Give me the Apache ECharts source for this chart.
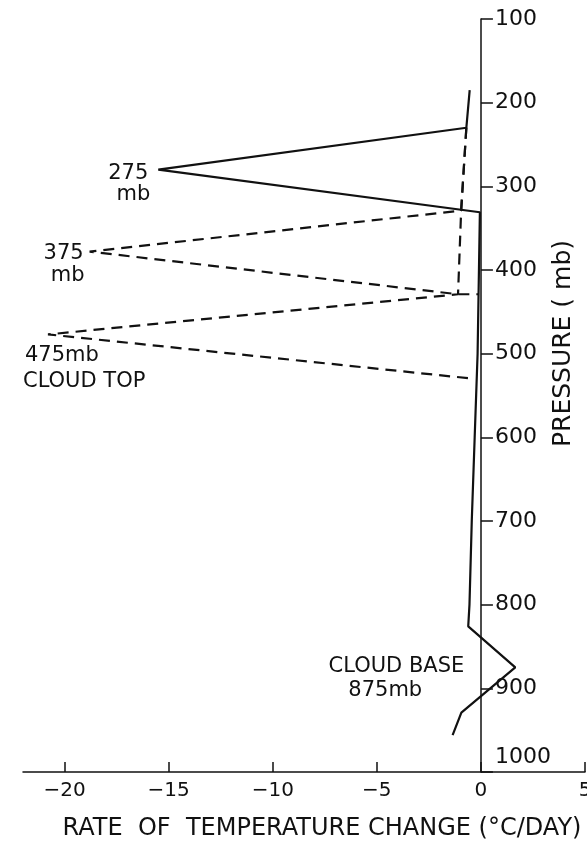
<!DOCTYPE html>
<html>
<head>
<meta charset="utf-8">
<script src="https://cdn.jsdelivr.net/npm/echarts@6/dist/echarts.min.js"></script>
<style>
  html, body { margin: 0; padding: 0; background: #fff; }
  #chart { width: 587px; height: 851px; }
</style>
</head>
<body>
<div id="chart"></div>
<script>
// ---- data ----
const xTicks = [-20, -15, -10, -5, 0, 5];
// Cloud top 275 mb (solid)
const solidP = [185, 230, 280, 331, 500, 600, 700, 800, 826, 875, 929, 956];
const solidR = [-0.54, -0.7, -15.5, -0.05, -0.16, -0.3, -0.44, -0.55, -0.61, 1.65, -0.94, -1.36];
// Cloud top 375 mb (dashed)
const dash375P = [230, 329, 378, 429, 429];
const dash375R = [-0.7, -0.95, -18.8, -1.1, -0.14];
// Cloud top 475 mb (dashed)
const dash475P = [230, 329, 429, 477, 530];
const dash475R = [-0.7, -0.95, -1.1, -20.8, -0.34];

const xName = 'RATE  OF  TEMPERATURE CHANGE (°C/DAY)';
const yName = 'PRESSURE ( mb)';

const FONT = 'DejaVu Sans';
const INK = '#111';

const W = 587, H = 851;
const GRID = { left: 23, right: 2, top: 19, bottom: 79 };
const X_MIN = -22, X_MAX = 5;
// shift the right-hand pressure axis onto x = 0
const yAxisOffset = -((W - GRID.left - GRID.right) * (X_MAX - 0) / (X_MAX - X_MIN));

function pairs(r, p) { return r.map((v, i) => [v, p[i]]); }

const chart = echarts.init(document.getElementById('chart'), null, { renderer: 'canvas' });

const option = {
  animation: false,
  backgroundColor: '#fff',
  grid: Object.assign({ containLabel: false, outerBoundsMode: 'none' }, GRID),
  xAxis: {
    type: 'value',
    min: X_MIN, max: X_MAX,
    position: 'bottom',
    splitLine: { show: false },
    axisLine: { show: true, onZero: false, lineStyle: { color: INK, width: 1.5 } },
    axisTick: { show: true, inside: true, length: 10, customValues: xTicks, lineStyle: { color: INK, width: 1.5 } },
    axisLabel: {
      customValues: xTicks, margin: 9, color: INK, fontFamily: FONT, fontSize: 20,
      formatter: v => (v < 0 ? '\u2212' + Math.abs(v) : String(v))
    },
    name: xName, nameLocation: 'middle', nameGap: 45, nameMoveOverlap: false,
    nameTextStyle: { color: INK, fontFamily: FONT, fontSize: 24, padding: [0, 0, 0, 36] }
  },
  yAxis: {
    type: 'value',
    min: 100, max: 1000, interval: 100,
    inverse: true,
    position: 'right',
    offset: yAxisOffset,
    splitLine: { show: false },
    axisLine: { show: true, onZero: false, lineStyle: { color: INK, width: 1.5 } },
    axisTick: { show: true, inside: false, length: 12, lineStyle: { color: INK, width: 1.5 } },
    axisLabel: {
      margin: 14, color: INK, fontFamily: FONT, fontSize: 22,
      formatter: v => (v === 1000 ? '{hi|1000}' : String(v)),
      rich: { hi: { fontFamily: FONT, fontSize: 22, color: INK, padding: [0, 0, 30, 0] } }
    },
    name: yName, nameLocation: 'middle', nameRotate: 90, nameGap: 70, nameMoveOverlap: false,
    nameTextStyle: { color: INK, fontFamily: FONT, fontSize: 25, padding: [0, 0, 0, 104] }
  },
  series: [
    {
      name: '275 mb', type: 'line', data: pairs(solidR, solidP),
      symbol: 'none', smooth: false,
      lineStyle: { color: INK, width: 2.2, type: 'solid' }
    },
    {
      name: '375 mb', type: 'line', data: pairs(dash375R, dash375P),
      symbol: 'none', smooth: false,
      lineStyle: { color: INK, width: 2.2, type: [11, 7] }
    },
    {
      name: '475 mb', type: 'line', data: pairs(dash475R, dash475P),
      symbol: 'none', smooth: false,
      lineStyle: { color: INK, width: 2.2, type: [11, 7] }
    }
  ]
};
chart.setOption(option);

// annotations anchored to data points
const annotations = [
  { text: '275', at: [solidR[2], solidP[2]], dx: -10, dy: 4, align: 'right' },
  { text: 'mb', at: [solidR[2], solidP[2]], dx: -8, dy: 25, align: 'right' },
  { text: '375', at: [dash375R[2], dash375P[2]], dx: -6, dy: 2, align: 'right' },
  { text: 'mb', at: [dash375R[2], dash375P[2]], dx: -5, dy: 24, align: 'right' },
  { text: '475mb', at: [dash475R[3], dash475P[3]], dx: -23, dy: 21, align: 'left' },
  { text: 'CLOUD TOP', at: [dash475R[3], dash475P[3]], dx: -25, dy: 47, align: 'left' },
  { text: 'CLOUD BASE', at: [solidR[9], solidP[9]], dx: -51, dy: -1, align: 'right' },
  { text: '875mb', at: [solidR[9], solidP[9]], dx: -130, dy: 23, align: 'center' }
];
const graphics = annotations.map(a => {
  const p = chart.convertToPixel({ gridIndex: 0 }, a.at);
  return {
    type: 'text', x: p[0] + a.dx, y: p[1] + a.dy, silent: true,
    style: { text: a.text, font: '21px "' + FONT + '"', fill: INK, align: a.align, verticalAlign: 'middle' }
  };
});
chart.setOption({ graphic: graphics });
</script>
</body>
</html>
